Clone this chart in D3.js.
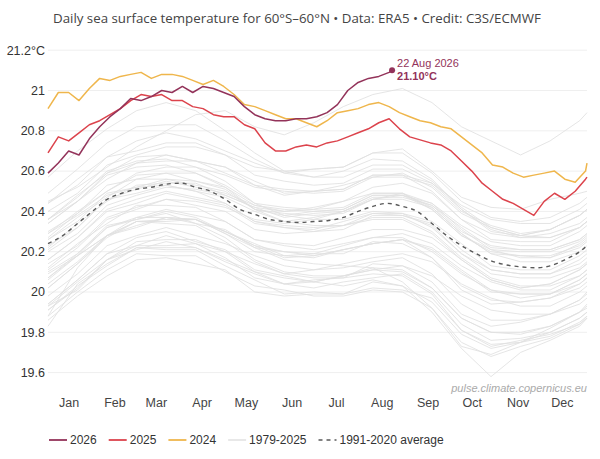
<!DOCTYPE html>
<html>
<head>
<meta charset="utf-8">
<script src="https://cdn.jsdelivr.net/npm/d3@7"></script>
<style>
  html, body { margin: 0; padding: 0; background: #fff; }
  svg { display: block; }
</style>
</head>
<body>
<div id="chart"></div>
<script>
// ---- data ----
const monthLabels = ["Jan", "Feb", "Mar", "Apr", "May", "Jun", "Jul", "Aug", "Sep", "Oct", "Nov", "Dec"];
const monthTickDays = [15, 46, 74, 105, 135, 166, 196, 227, 258, 288, 319, 349];

const yTickValues = [19.6, 19.8, 20, 20.2, 20.4, 20.6, 20.8, 21, 21.2];
const yTickLabels = ["19.6", "19.8", "20", "20.2", "20.4", "20.6", "20.8", "21", "21.2°C"];

// weekly sample days for the highlighted years
const weekDays = [1, 8, 15, 22, 29, 36, 43, 50, 57, 64, 71, 78, 85, 92, 99, 106, 113, 120, 127, 134,
  141, 148, 155, 162, 169, 176, 183, 190, 197, 204, 211, 218, 225, 232, 239, 246, 253, 260, 267, 274,
  281, 288, 295, 302, 309, 316, 323, 330, 337, 344, 351, 358, 365, 366];

const values2024 = [20.91, 20.99, 20.99, 20.95, 21.01, 21.06, 21.05, 21.07, 21.08, 21.09, 21.06, 21.08, 21.08, 21.07,
  21.05, 21.03, 21.05, 21.02, 20.98, 20.93, 20.92, 20.90, 20.88, 20.86, 20.86, 20.84, 20.82, 20.85, 20.89, 20.90,
  20.91, 20.93, 20.94, 20.92, 20.89, 20.87, 20.85, 20.84, 20.82, 20.81, 20.77, 20.73, 20.69, 20.63, 20.62, 20.59,
  20.57, 20.58, 20.59, 20.60, 20.56, 20.545, 20.60, 20.64];

const values2025 = [20.69, 20.77, 20.75, 20.79, 20.83, 20.85, 20.88, 20.91, 20.95, 20.98, 20.97, 20.98, 20.95, 20.95,
  20.92, 20.91, 20.88, 20.87, 20.87, 20.83, 20.81, 20.74, 20.70, 20.70, 20.72, 20.73, 20.72, 20.74, 20.75, 20.77,
  20.79, 20.81, 20.84, 20.86, 20.81, 20.77, 20.755, 20.74, 20.73, 20.70, 20.65, 20.60, 20.54, 20.50, 20.46, 20.44,
  20.41, 20.38, 20.45, 20.49, 20.46, 20.50, 20.56, 20.57];

// 2026 runs to the latest day only
const values2026 = [20.59, 20.64, 20.70, 20.68, 20.76, 20.82, 20.87, 20.91, 20.96, 20.95, 20.97, 21.00, 20.99, 21.02,
  20.99, 21.02, 21.01, 20.99, 20.97, 20.92, 20.88, 20.86, 20.85, 20.85, 20.86, 20.86, 20.87, 20.89, 20.93, 21.00,
  21.04, 21.06, 21.07, 21.09];
const latestDay = 234;          // 22 Aug 2026
const latestValue = 21.10;
const latestLabel = "22 Aug 2026";

// 1991-2020 average
const avgDays = [1, 11, 21, 31, 41, 51, 61, 71, 81, 91, 101, 111, 121, 131, 141, 151, 161, 171, 181, 191,
  201, 211, 221, 231, 241, 251, 261, 271, 281, 291, 301, 311, 321, 331, 341, 351, 361, 366];
const avgValues = [20.24, 20.28, 20.34, 20.40, 20.46, 20.49, 20.51, 20.52, 20.535, 20.54, 20.52, 20.50, 20.46, 20.41,
  20.385, 20.36, 20.35, 20.345, 20.35, 20.355, 20.37, 20.40, 20.425, 20.44, 20.425, 20.40, 20.34, 20.28, 20.23,
  20.19, 20.155, 20.135, 20.125, 20.12, 20.13, 20.16, 20.20, 20.23];

// earlier years, sampled every 20 days
const grayDays = [1, 21, 41, 61, 81, 101, 121, 141, 161, 181, 201, 221, 241, 261, 281, 301, 321, 341, 361, 366];
const grayYears = d3.range(1979, 2024);
const grayValues = [
  [19.83,20.04,20.14,20.22,20.21,20.21,20.13,20.06,19.99,20.00,19.99,20.02,20.01,19.97,19.81,19.73,19.76,19.79,19.84,19.88], // 1979
  [19.94,20.06,20.19,20.27,20.30,20.25,20.21,20.11,20.08,20.05,20.08,20.11,20.10,20.02,19.87,19.80,19.79,19.83,19.90,19.92], // 1980
  [19.93,20.01,20.16,20.23,20.23,20.24,20.17,20.07,20.04,20.02,20.05,20.07,20.09,20.00,19.84,19.76,19.77,19.80,19.87,19.90], // 1981
  [19.91,20.03,20.13,20.22,20.22,20.22,20.16,20.10,20.04,20.05,20.03,20.06,20.03,19.90,19.72,19.58,19.70,19.76,19.83,19.87], // 1982
  [19.88,20.12,20.28,20.35,20.34,20.33,20.25,20.15,20.09,20.07,20.07,20.09,20.08,19.99,19.81,19.74,19.75,19.78,19.85,19.88], // 1983
  [19.88,20.00,20.11,20.19,20.18,20.18,20.10,20.03,20.01,19.98,19.98,20.01,20.00,19.92,19.75,19.68,19.73,19.77,19.84,19.87], // 1984
  [19.86,19.98,20.08,20.16,20.17,20.14,20.11,20.00,19.98,19.99,19.99,20.05,20.03,19.95,19.79,19.72,19.75,19.80,19.87,19.90], // 1985
  [19.91,20.02,20.16,20.21,20.25,20.22,20.15,20.09,20.04,20.06,20.07,20.14,20.13,20.05,19.89,19.83,19.85,19.89,19.96,19.99], // 1986
  [20.02,20.14,20.28,20.33,20.37,20.36,20.29,20.20,20.18,20.17,20.21,20.24,20.26,20.17,20.01,19.94,19.95,19.97,20.02,20.05], // 1987
  [20.07,20.19,20.32,20.36,20.39,20.34,20.27,20.16,20.10,20.08,20.08,20.12,20.11,20.02,19.87,19.80,19.80,19.83,19.90,19.93], // 1988
  [19.93,20.05,20.16,20.25,20.26,20.26,20.20,20.14,20.09,20.11,20.12,20.15,20.17,20.09,19.94,19.86,19.86,19.89,19.96,20.00], // 1989
  [20.02,20.14,20.27,20.35,20.36,20.36,20.30,20.24,20.18,20.19,20.19,20.25,20.24,20.17,20.03,19.96,19.95,19.97,20.04,20.07], // 1990
  [20.07,20.18,20.28,20.37,20.37,20.36,20.29,20.22,20.16,20.14,20.13,20.12,20.05,19.92,19.73,19.69,19.75,19.82,19.90,19.94], // 1991
  [19.94,20.06,20.19,20.23,20.28,20.24,20.20,20.10,20.07,20.05,20.08,20.11,20.13,20.08,19.98,19.91,19.89,19.89,19.94,19.97], // 1992
  [19.98,20.09,20.23,20.28,20.32,20.28,20.24,20.18,20.13,20.11,20.14,20.17,20.19,20.15,20.04,19.97,19.93,19.93,20.00,20.03], // 1993
  [20.04,20.15,20.28,20.32,20.37,20.34,20.31,20.22,20.20,20.19,20.23,20.27,20.29,20.24,20.13,20.05,20.01,20.01,20.08,20.11], // 1994
  [20.12,20.24,20.34,20.43,20.43,20.42,20.35,20.26,20.23,20.21,20.24,20.27,20.27,20.20,20.09,20.01,19.99,19.99,20.04,20.07], // 1995
  [20.06,20.18,20.28,20.35,20.35,20.36,20.30,20.23,20.17,20.18,20.21,20.24,20.26,20.21,20.10,20.00,19.99,19.99,20.06,20.09], // 1996
  [20.11,20.22,20.36,20.41,20.46,20.45,20.42,20.36,20.34,20.36,20.40,20.46,20.49,20.44,20.33,20.25,20.23,20.23,20.30,20.33], // 1997
  [20.34,20.45,20.58,20.62,20.63,20.59,20.52,20.41,20.35,20.33,20.33,20.37,20.37,20.30,20.17,20.07,20.03,20.03,20.08,20.11], // 1998
  [20.10,20.19,20.33,20.36,20.40,20.37,20.30,20.23,20.20,20.18,20.21,20.24,20.26,20.22,20.11,20.01,19.97,19.99,20.06,20.09], // 1999
  [20.09,20.18,20.32,20.37,20.41,20.38,20.35,20.26,20.24,20.23,20.27,20.31,20.31,20.27,20.16,20.06,20.02,20.04,20.11,20.14], // 2000
  [20.16,20.27,20.40,20.44,20.49,20.46,20.43,20.34,20.32,20.31,20.35,20.39,20.39,20.35,20.24,20.13,20.11,20.11,20.18,20.21], // 2001
  [20.22,20.34,20.45,20.53,20.54,20.54,20.48,20.42,20.37,20.39,20.40,20.47,20.47,20.43,20.32,20.22,20.21,20.21,20.26,20.29], // 2002
  [20.30,20.39,20.53,20.56,20.59,20.55,20.51,20.41,20.38,20.40,20.41,20.48,20.48,20.41,20.28,20.21,20.17,20.17,20.24,20.27], // 2003
  [20.26,20.35,20.49,20.52,20.56,20.53,20.50,20.41,20.39,20.38,20.39,20.46,20.46,20.42,20.29,20.19,20.18,20.18,20.23,20.26], // 2004
  [20.27,20.39,20.50,20.58,20.59,20.59,20.53,20.44,20.42,20.41,20.45,20.49,20.49,20.42,20.29,20.19,20.15,20.15,20.20,20.23], // 2005
  [20.23,20.32,20.46,20.49,20.53,20.50,20.47,20.40,20.35,20.37,20.40,20.46,20.48,20.43,20.30,20.23,20.21,20.21,20.26,20.29], // 2006
  [20.29,20.38,20.48,20.52,20.53,20.50,20.44,20.35,20.32,20.30,20.33,20.36,20.36,20.29,20.16,20.06,20.02,20.04,20.11,20.14], // 2007
  [20.14,20.23,20.37,20.42,20.46,20.43,20.40,20.31,20.29,20.30,20.31,20.38,20.38,20.34,20.21,20.11,20.09,20.09,20.14,20.17], // 2008
  [20.20,20.29,20.43,20.48,20.52,20.51,20.48,20.42,20.40,20.42,20.45,20.52,20.54,20.49,20.36,20.29,20.27,20.27,20.32,20.35], // 2009
  [20.36,20.47,20.60,20.65,20.66,20.62,20.55,20.44,20.38,20.36,20.36,20.40,20.39,20.32,20.19,20.09,20.07,20.07,20.12,20.15], // 2010
  [20.16,20.27,20.41,20.46,20.50,20.47,20.44,20.35,20.33,20.32,20.33,20.39,20.38,20.33,20.19,20.11,20.09,20.09,20.16,20.19], // 2011
  [20.21,20.32,20.46,20.51,20.55,20.52,20.49,20.43,20.40,20.41,20.42,20.49,20.49,20.41,20.28,20.20,20.18,20.17,20.22,20.25], // 2012
  [20.26,20.37,20.47,20.56,20.56,20.55,20.52,20.43,20.41,20.40,20.41,20.48,20.48,20.44,20.31,20.21,20.20,20.20,20.25,20.28], // 2013
  [20.29,20.40,20.50,20.59,20.62,20.62,20.58,20.52,20.50,20.49,20.50,20.57,20.59,20.52,20.39,20.32,20.28,20.31,20.38,20.41], // 2014
  [20.40,20.49,20.63,20.68,20.72,20.72,20.68,20.62,20.60,20.61,20.62,20.69,20.71,20.60,20.47,20.42,20.41,20.46,20.49,20.50], // 2015
  [20.57,20.70,20.81,20.90,20.94,20.90,20.80,20.69,20.60,20.57,20.57,20.63,20.63,20.55,20.42,20.32,20.28,20.31,20.38,20.41], // 2016
  [20.44,20.53,20.67,20.70,20.74,20.74,20.68,20.58,20.55,20.53,20.54,20.61,20.61,20.54,20.41,20.31,20.27,20.29,20.34,20.37], // 2017
  [20.36,20.45,20.56,20.64,20.65,20.65,20.59,20.53,20.48,20.50,20.51,20.58,20.58,20.54,20.43,20.36,20.34,20.34,20.41,20.44], // 2018
  [20.44,20.56,20.67,20.75,20.79,20.76,20.70,20.64,20.59,20.61,20.62,20.69,20.69,20.59,20.45,20.37,20.35,20.37,20.44,20.47], // 2019
  [20.49,20.61,20.74,20.82,20.83,20.83,20.75,20.66,20.59,20.57,20.60,20.66,20.65,20.56,20.41,20.30,20.28,20.27,20.32,20.35], // 2020
  [20.34,20.45,20.59,20.64,20.68,20.65,20.62,20.53,20.51,20.50,20.51,20.58,20.58,20.50,20.36,20.26,20.25,20.25,20.32,20.35], // 2021
  [20.36,20.48,20.59,20.67,20.68,20.65,20.62,20.55,20.49,20.50,20.53,20.57,20.57,20.53,20.40,20.33,20.29,20.31,20.38,20.41], // 2022
  [20.45,20.52,20.62,20.72,20.80,20.88,20.90,20.82,20.78,20.84,20.92,20.98,21.01,20.94,20.82,20.75,20.68,20.75,20.85,20.89]  // 2023
];

// ---- styles ----
const colors = { y2026: "#93335a", y2025: "#dc434c", y2024: "#efb64c", gray: "#e0e0e0", avg: "#5a5a5a" };
const fontFamily = "'Liberation Sans', Arial, sans-serif";

const width = 600;
const height = 459;
const plot = { left: 48, right: 587, top: 50.2, bottom: 372.6 };

const svg = d3.select("#chart")
    .append("svg")
    .attr("width", width)
    .attr("height", height)
    .style("background", "#fff");

const x = d3.scaleLinear().domain([1, 366]).range([plot.left, plot.right]);
const y = d3.scaleLinear().domain([19.6, 21.2]).range([plot.bottom, plot.top]);

// Title
svg.append("text")
    .attr("x", 53)
    .attr("y", 23)
    .text("Daily sea surface temperature for 60°S–60°N • Data: ERA5 • Credit: C3S/ECMWF")
    .style("font-family", "'Open Sans', sans-serif")
    .style("font-size", "13.3px")
    .style("fill", "#444");

// Horizontal grid + y labels
const yAxis = svg.append("g").attr("class", "y-axis");
yAxis.selectAll("line")
    .data(yTickValues)
    .join("line")
    .attr("x1", plot.left)
    .attr("x2", plot.right)
    .attr("y1", d => y(d))
    .attr("y2", d => y(d))
    .attr("stroke", "#efefef")
    .attr("stroke-width", 1);

yAxis.selectAll("text")
    .data(yTickValues)
    .join("text")
    .attr("x", 45)
    .attr("y", d => y(d))
    .attr("dy", "0.35em")
    .attr("text-anchor", "end")
    .text((d, i) => yTickLabels[i])
    .style("font-family", fontFamily)
    .style("font-size", "12.5px")
    .style("fill", "#333");

// Month labels
const xAxis = d3.axisBottom(x)
    .tickValues(monthTickDays)
    .tickFormat((d, i) => monthLabels[i])
    .tickSize(0)
    .tickPadding(0);

svg.append("g")
    .attr("transform", "translate(0,398)")
    .call(xAxis)
    .call(g => g.select(".domain").remove())
    .selectAll("text")
    .style("font-family", fontFamily)
    .style("font-size", "12.5px")
    .style("fill", "#444");

// Line generator
const line = d3.line()
    .x(d => x(d[0]))
    .y(d => y(d[1]));

// Gray years 1979-2023
svg.append("g")
    .selectAll("path")
    .data(grayValues)
    .join("path")
    .attr("d", vals => line(vals.map((v, i) => [grayDays[i], v])))
    .attr("fill", "none")
    .attr("stroke", colors.gray)
    .attr("stroke-opacity", 0.85)
    .attr("stroke-width", 1);

// 1991-2020 average
svg.append("path")
    .attr("d", d3.line().curve(d3.curveMonotoneX).x(d => x(d[0])).y(d => y(d[1]))(avgValues.map((v, i) => [avgDays[i], v])))
    .attr("fill", "none")
    .attr("stroke", colors.avg)
    .attr("stroke-width", 1.4)
    .attr("stroke-dasharray", "4,4");

// Highlighted years
const highlight = [
    { name: "2024", vals: values2024.map((v, i) => [weekDays[i], v]), color: colors.y2024 },
    { name: "2025", vals: values2025.map((v, i) => [weekDays[i], v]), color: colors.y2025 },
    { name: "2026", vals: values2026.map((v, i) => [weekDays[i], v]).concat([[latestDay, latestValue]]), color: colors.y2026 }
];

svg.append("g")
    .selectAll("path")
    .data(highlight)
    .join("path")
    .attr("d", d => line(d.vals))
    .attr("fill", "none")
    .attr("stroke", d => d.color)
    .attr("stroke-width", 1.5)
    .attr("stroke-linejoin", "round");

// Latest point annotation
svg.append("circle")
    .attr("cx", x(latestDay))
    .attr("cy", y(latestValue))
    .attr("r", 3)
    .attr("fill", colors.y2026);

svg.append("text")
    .attr("x", x(latestDay) + 5)
    .attr("y", y(latestValue) - 3)
    .text(latestLabel)
    .style("font-family", fontFamily)
    .style("font-size", "11px")
    .style("fill", colors.y2026);

svg.append("text")
    .attr("x", x(latestDay) + 5)
    .attr("y", y(latestValue) + 10)
    .text(latestValue.toFixed(2) + "°C")
    .style("font-family", fontFamily)
    .style("font-size", "11px")
    .style("font-weight", "bold")
    .style("fill", colors.y2026);

// Watermark
svg.append("text")
    .attr("x", plot.right)
    .attr("y", 392)
    .attr("text-anchor", "end")
    .text("pulse.climate.copernicus.eu")
    .style("font-family", fontFamily)
    .style("font-size", "11px")
    .style("font-style", "italic")
    .style("fill", "#aaa");

// Legend
const legendItems = [
    { label: "2026", color: colors.y2026, dash: null, w: 1.8 },
    { label: "2025", color: colors.y2025, dash: null, w: 1.8 },
    { label: "2024", color: colors.y2024, dash: null, w: 1.8 },
    { label: "1979-2025", color: "#e6e6e6", dash: null, w: 1.8 },
    { label: "1991-2020 average", color: colors.avg, dash: "4,4", w: 1.4 }
];

const legend = svg.append("g").attr("class", "legend");
let lx = 49;
legendItems.forEach(item => {
    legend.append("line")
        .attr("x1", lx)
        .attr("x2", lx + 18)
        .attr("y1", 440)
        .attr("y2", 440)
        .attr("stroke", item.color)
        .attr("stroke-width", item.w)
        .attr("stroke-dasharray", item.dash);
    const t = legend.append("text")
        .attr("x", lx + 21)
        .attr("y", 440)
        .attr("dy", "0.35em")
        .text(item.label)
        .style("font-family", fontFamily)
        .style("font-size", "12px")
        .style("fill", "#333");
    lx += 21 + t.node().getComputedTextLength() + 12;
});
</script>
</body>
</html>
